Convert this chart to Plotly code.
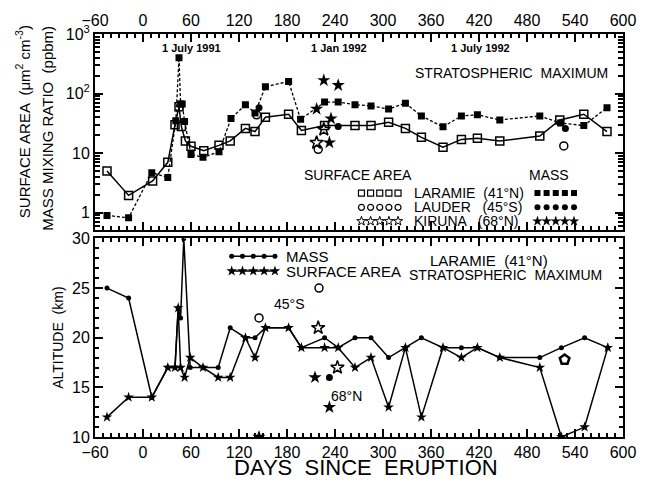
import plotly.graph_objects as go

# ---------------- data ----------------
# Top panel: Laramie surface area (open squares, solid) and mass (filled squares, dashed)
lar_sa_days = [-45, -18, 12, 31, 40, 45, 48, 53, 60, 76, 95, 109, 128, 140, 153, 182, 198, 227,
               265, 285, 307, 328, 348, 375, 398, 418, 446, 496, 521, 551, 580]
lar_sa_vals = [5.0, 1.95, 3.4, 7.0, 30, 60, 28, 16, 13, 11, 13.5, 16, 26, 23, 40, 45, 24, 29,
               29, 29, 33, 26, 18.4, 12.6, 17, 17.7, 16, 19.3, 36, 45, 23]
lar_mass_days = [-45, -18, 11, 31, 41, 45, 47, 49, 52, 60, 75, 95, 110, 128, 140, 153, 182, 197,
                 227, 244, 265, 285, 307, 328, 348, 375, 398, 418, 446, 496, 522, 551, 580]
lar_mass_vals = [0.9, 0.82, 4.7, 3.9, 35, 400, 67, 67, 34, 9.5, 8.5, 10.5, 38, 65, 47, 130, 160, 37,
                 72, 72, 65, 62, 55, 69, 42, 27.6, 42, 44, 36, 42, 32, 29, 58]

# Top panel: Lauder (45S) and Kiruna (68N) points
lau_sa_days_top = [142, 219, 526]
lau_sa_vals_top = [44, 11.6, 13.2]
lau_mass_days_top = [145, 244, 528]
lau_mass_vals_top = [58, 28, 26]
kir_sa_days_top = [217, 226]
kir_sa_vals_top = [15, 25]
kir_mass_days_top = [217, 226, 233, 235, 244]
kir_mass_vals_top = [55, 167, 15, 38, 138]

# Bottom panel: Laramie altitude of stratospheric maximum
alt_mass_days = [-45, -18, 11, 31, 40, 44, 47, 51, 59, 75, 94, 109, 128, 140, 153, 182, 198, 227,
                 244, 265, 285, 307, 328, 348, 375, 398, 418, 446, 496, 523, 552, 581]
alt_mass_km = [25, 24, 14, 17, 17, 23, 22, 30, 17, 17, 17, 21, 20, 20, 21, 21, 19, 20,
               19, 20, 20, 18, 19, 20, 19, 19, 19, 18, 18, 19, 20, 19]
alt_sa_days = [-45, -18, 11, 31, 40, 44, 47, 52, 59, 75, 94, 109, 128, 140, 153, 182, 198, 227,
               244, 265, 285, 307, 328, 348, 375, 398, 418, 446, 496, 523, 552, 581]
alt_sa_km = [12, 14, 14, 17, 17, 23, 17, 16, 18, 17, 16, 16, 20, 18, 21, 21, 19, 19,
             19, 17, 18, 13, 19, 12, 19, 18, 19, 18, 17, 10, 11, 19]

# Bottom panel: other stations
lau_open_days_bot = [145, 220]
lau_open_km_bot = [22, 25]
lau_fill_days_bot = [233]
lau_fill_km_bot = [16]
kir_open_days_bot = [219, 243]
kir_open_km_bot = [21, 17]
kir_fill_days_bot = [145, 215, 233]
kir_fill_km_bot = [10, 16, 13]
pent_days_bot = [527]
pent_km_bot = [17.8]

x_ticks = list(range(-60, 601, 60))
y_top_ticks = [1, 10, 100, 1000]
y_top_labels = ["1", "10", "10<sup>2</sup>", "10<sup>3</sup>"]
y_bot_ticks = [10, 15, 20, 25, 30]

BLACK = "black"
FONT = "Liberation Sans"

fig = go.Figure()


def sc(x, y, ax, mode, symbol, size, lw=1.5, dash=None, mlw=1.5):
    fig.add_trace(go.Scatter(
        x=x, y=y, mode=mode, xaxis=ax[0], yaxis=ax[1], hoverinfo="skip",
        line=dict(color=BLACK, width=lw, dash=dash),
        marker=dict(symbol=symbol, size=size, color=BLACK, line=dict(width=mlw, color=BLACK))))


TOP = ("x", "y")
BOT = ("x2", "y2")
KEY = ("x3", "y3")

# ---- top panel ----
sc(lar_sa_days, lar_sa_vals, TOP, "lines+markers", "square-open", 8)
sc(lar_mass_days, lar_mass_vals, TOP, "lines+markers", "square", 7, lw=1.3, dash="3px,2px", mlw=0)
sc(lau_sa_days_top, lau_sa_vals_top, TOP, "markers", "circle-open", 8)
sc(lau_mass_days_top, lau_mass_vals_top, TOP, "markers", "circle", 7, mlw=0)
sc(kir_sa_days_top, kir_sa_vals_top, TOP, "markers", "star-open", 10)
sc(kir_mass_days_top, kir_mass_vals_top, TOP, "markers", "star", 10, mlw=0)

# ---- bottom panel ----
sc(alt_mass_days, alt_mass_km, BOT, "lines+markers", "circle", 5, mlw=0)
sc(alt_sa_days, alt_sa_km, BOT, "lines+markers", "star", 8, mlw=0)
sc(lau_open_days_bot, lau_open_km_bot, BOT, "markers", "circle-open", 8)
sc(lau_fill_days_bot, lau_fill_km_bot, BOT, "markers", "circle", 7, mlw=0)
sc(kir_open_days_bot, kir_open_km_bot, BOT, "markers", "star-open", 10)
sc(kir_fill_days_bot, kir_fill_km_bot, BOT, "markers", "star", 10, mlw=0)
sc(pent_days_bot, pent_km_bot, BOT, "markers", "pentagon-open", 10, mlw=2.5)


# ---- legend keys (runs of five symbols, in a pixel-unit key axis) ----
def key_run(x0, step, y, symbol, size, mode="markers", mlw=1.2):
    xs = [x0 + step * i for i in range(5)]
    sc(xs, [y] * 5, KEY, mode, symbol, size, lw=1.5, mlw=mlw)


key_run(366, 9.3, 190, "square-open", 6)
key_run(366, 9.3, 204.5, "circle-open", 6)
key_run(366, 9.3, 218.5, "star-open", 7, mlw=1)
key_run(545, 9.3, 190, "square", 6, mlw=0)
key_run(545, 9.3, 204.5, "circle", 6, mlw=0)
key_run(545, 9.3, 218.5, "star", 8, mlw=0)
key_run(234, 11, 254, "circle", 5, mode="lines+markers", mlw=0)
key_run(234, 11, 269, "star", 8, mode="lines+markers", mlw=0)

common_axis = dict(ticks="inside", ticklen=8, tickwidth=1.5, tickcolor=BLACK,
                   showline=True, linewidth=2, linecolor=BLACK, mirror="ticks",
                   showgrid=False, zeroline=False,
                   tickfont=dict(family=FONT, size=16, color=BLACK))

minor_logs = [m * 10 ** e for e in range(0, 3) for m in range(2, 10)] + [0.6, 0.7, 0.8, 0.9]

fig.update_layout(
    width=648, height=482,
    margin=dict(l=95, r=16, t=29, b=45),
    paper_bgcolor="white", plot_bgcolor="rgba(0,0,0,0)",
    showlegend=False,
    font=dict(family=FONT, color=BLACK),
    xaxis=dict(domain=[0, 1], range=[-60, 600], anchor="y", side="top",
               tickvals=x_ticks,
               minor=dict(dtick=10, tick0=0, ticks="inside", ticklen=4, tickcolor=BLACK),
               **common_axis),
    yaxis=dict(domain=[0.5147, 1], type="log", range=[-0.284, 3], anchor="x",
               tickvals=y_top_ticks, ticktext=y_top_labels,
               minor=dict(tickvals=minor_logs, ticks="inside", ticklen=5, tickcolor=BLACK),
               **common_axis),
    xaxis2=dict(domain=[0, 1], range=[-60, 600], anchor="y2", side="bottom",
                tickvals=x_ticks,
                minor=dict(dtick=10, tick0=0, ticks="inside", ticklen=4, tickcolor=BLACK),
                **common_axis),
    yaxis2=dict(domain=[0, 0.4926], range=[10, 30], anchor="x2",
                tickvals=y_bot_ticks,
                minor=dict(dtick=1, ticks="inside", ticklen=4, tickcolor=BLACK),
                **common_axis),
    xaxis3=dict(domain=[0, 1], range=[95, 632], anchor="y3", visible=False, fixedrange=True),
    yaxis3=dict(domain=[0, 1], range=[437, 29], anchor="x3", visible=False, fixedrange=True),
)


def px(x):
    return (x - 95) / 537


def py(y):
    return (437 - y) / 408


def ann(text, x, y, size=14, anchor="center", angle=0):
    fig.add_annotation(text=text, x=px(x), y=py(y), xref="paper", yref="paper",
                       xanchor=anchor, yanchor="middle", showarrow=False,
                       textangle=angle, font=dict(family=FONT, size=size, color=BLACK))


# top panel texts
ann("<b>1 July 1991</b>", 193, 43, 11)
ann("<b>1 Jan 1992</b>", 343, 43, 11)
ann("<b>1 July 1992</b>", 487, 43, 11)
ann("STRATOSPHERIC  MAXIMUM", 519, 68, 14)
ann("SURFACE AREA", 362, 172, 14)
ann("MASS", 557, 172, 14)
ann("LARAMIE  (41°N)", 417, 190, 14, "left")
ann("LAUDER   (45°S)", 417, 204.5, 14, "left")
ann("KIRUNA   (68°N)", 417, 218.5, 14, "left")

# axis titles
ann("SURFACE AREA  (μm<sup>2</sup> cm<sup>-3</sup>)", 22, 118, 15, angle=-90)
ann("MASS MIXING RATIO  (ppbm)", 47, 124, 15, angle=-90)
ann("ALTITUDE  (km)", 58, 337, 14, angle=-90)
ann("DAYS  SINCE  ERUPTION", 371, 468, 22)

# bottom panel texts
ann("MASS", 287, 254, 15, "left")
ann("SURFACE AREA", 287, 269, 15, "left")
ann("LARAMIE  (41°N)", 496, 258, 15)
ann("STRATOSPHERIC  MAXIMUM", 513, 273, 14)
ann("45°S", 293, 302, 14)
ann("68°N", 351, 395, 14)

fig.write_html("out.html")
